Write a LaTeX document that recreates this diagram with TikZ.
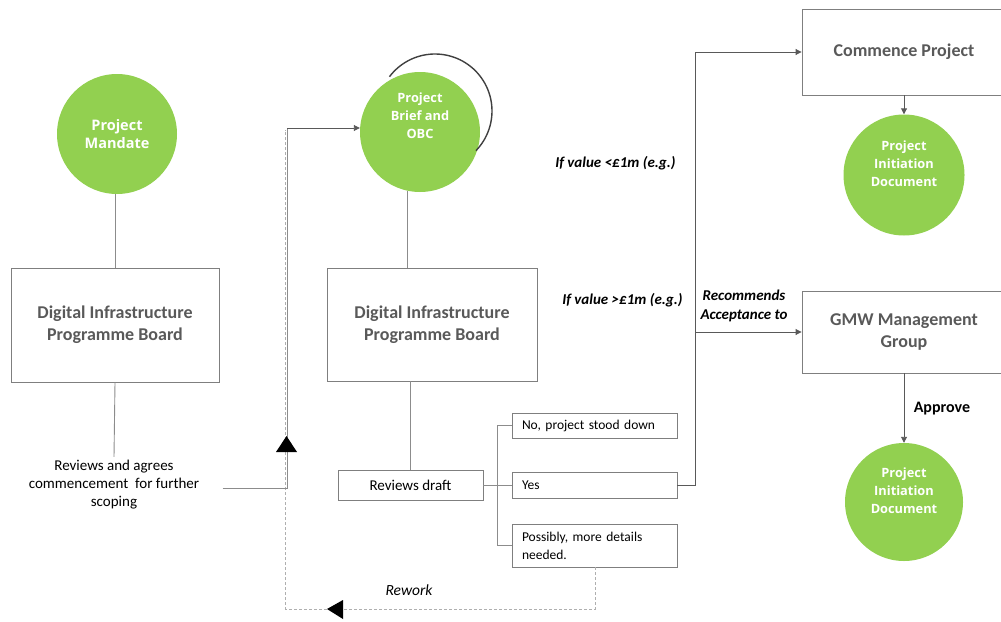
\documentclass[tikz,border=0pt]{standalone}
\usepackage{fontspec}
\setmainfont{Carlito}
\newfontfamily\circfont{Open Sans}
\usetikzlibrary{arrows.meta,calc}
\definecolor{grn}{HTML}{92D050}
\definecolor{boxtxt}{HTML}{595959}
\definecolor{boxline}{HTML}{7F7F7F}
\definecolor{lin}{HTML}{8C8C8C}
\definecolor{arr}{HTML}{595959}
\begin{document}
\begin{tikzpicture}[x=1pt,y=-1pt,
  circ/.style={circle,fill=grn,draw=none,text=white,align=center,inner sep=0pt,font=\circfont\bfseries\fontsize{12.8}{18}\selectfont},
  bigbox/.style={draw=boxline,line width=0.9pt,fill=white,align=center,text=boxtxt,font=\bfseries\fontsize{18}{22}\selectfont},
  smallbox/.style={draw=boxline,line width=0.9pt,fill=white,text width=145pt,align=left,inner xsep=10pt,font=\fontsize{13.5}{18}\selectfont,minimum width=165pt},
  plain/.style={align=center,font=\fontsize{15}{18}\selectfont},
  lbl/.style={font=\bfseries\itshape\fontsize{15}{18.5}\selectfont,align=center},
  conn/.style={draw=lin,line width=0.9pt},
  arrow/.style={draw=arr,line width=0.9pt,-{Triangle[length=6pt,width=6pt]}},
  dsh/.style={draw=lin!70,line width=1pt,dash pattern=on 3pt off 2pt},
  tri/.style={fill=black,draw=none}
]
\useasboundingbox (0,0) rectangle (1001,621);
\clip (0,0) rectangle (1001,621);

% left column
\node[circ,minimum size=120pt,font=\circfont\bfseries\fontsize{14.5}{18.5}\selectfont] (mandate) at (117,134) {Project\\Mandate};
\node[bigbox,minimum width=208pt,minimum height=114pt] (dipb1) at (115,325) {Digital Infrastructure\\Programme Board};
\node[plain] (rev1) at (114,485) {Reviews and agrees\\commencement\ \ for further\\scoping};
\draw[conn] (mandate.south -| dipb1.north) -- (dipb1.north);
\draw[conn] (dipb1.south) -- (rev1.north);

% middle column
\node[circ,minimum size=120pt,text depth=32pt] (brief) at (420,132) {Project\\Brief and\\OBC};
\draw[draw=black!75,line width=1.4pt,shift={($(brief.center)+(15,-21)$)}] plot[domain=217:404,samples=60,smooth] ({57*cos(\x)},{57*sin(\x)});
\node[bigbox,minimum width=210pt,minimum height=113pt] (dipb2) at (432,324.5) {Digital Infrastructure\\Programme Board};
\node[draw=boxline,line width=0.9pt,fill=white,minimum width=145pt,minimum height=30pt,font=\fontsize{15}{18}\selectfont] (revd) at (410.5,485) {Reviews draft};
\draw[conn] (brief.258) -- (brief.258 |- dipb2.north);
\draw[conn] (revd.north) -- (revd.north |- dipb2.south);

% options
\node[smallbox,minimum height=25pt] (no) at (594.5,425.5) {No, project stood down};
\node[smallbox,minimum height=26pt] (yes) at (594.5,485) {Yes};
\node[smallbox,minimum height=43pt] (poss) at (594.5,545.5) {Possibly, more details\\needed.};
\coordinate (br) at (497,485);
\draw[conn] (revd.east) -- (br);
\draw[conn] (br |- no.west) -- (br |- poss.west);
\draw[conn] (br |- no.west) -- (no.west);
\draw[conn] (br) -- (yes.west);
\draw[conn] (br |- poss.west) -- (poss.west);

% feedback loop (rework)
\coordinate (j1) at (287,488);
\coordinate (d1) at (595,609);
\coordinate (d2) at (285.5,609);
\draw[dsh] (poss.south -| d1) -- (d1) -- (d2) -- (285.5,130);
\draw[conn] ($(rev1.east)+(20,3)$) -- (j1) -- (287,128);
\draw[arrow] (287,128) -- (brief.west |- 0,128);
\fill[tri] (286.5,436) -- (297,452) -- (276,452) -- cycle;
\fill[tri] (327,609) -- (343,600) -- (343,619) -- cycle;
\node[font=\itshape\fontsize{15.5}{18}\selectfont] (rework) at (409,590) {Rework};

% right column
\node[bigbox,minimum width=204pt,minimum height=86pt] (commence) at (904,52) {Commence Project};
\node[circ,minimum size=121pt,text depth=22pt] (pid1) at (904,175) {Project\\Initiation\\Document};
\node[bigbox,minimum width=204pt,minimum height=82pt] (gmw) at (904,332) {GMW Management\\Group};
\node[circ,minimum size=118pt,text depth=22pt] (pid2) at (904,502) {Project\\Initiation\\Document};
\coordinate (v) at (695,485);
\draw[conn,draw=arr] (yes.east) -- (v) -- (v |- commence.west);
\draw[arrow] (v |- commence.west) -- (commence.west);
\draw[arrow] (v |- gmw.west) -- (gmw.west);
\draw[arrow] (commence.south) -- (pid1.north);
\draw[arrow] (gmw.south) -- (pid2.north) node[midway,right=6pt,font=\bfseries\fontsize{16}{18}\selectfont] (appr) {Approve};

% labels
\node[lbl,anchor=east] (lt) at (679,163) {If value <£1m (e.g.)};
\node[lbl,anchor=east] (gt) at (686,300) {If value >£1m (e.g.)};
\node[lbl] (rec) at (744,306) {Recommends\\Acceptance to};
\end{tikzpicture}
\end{document}
